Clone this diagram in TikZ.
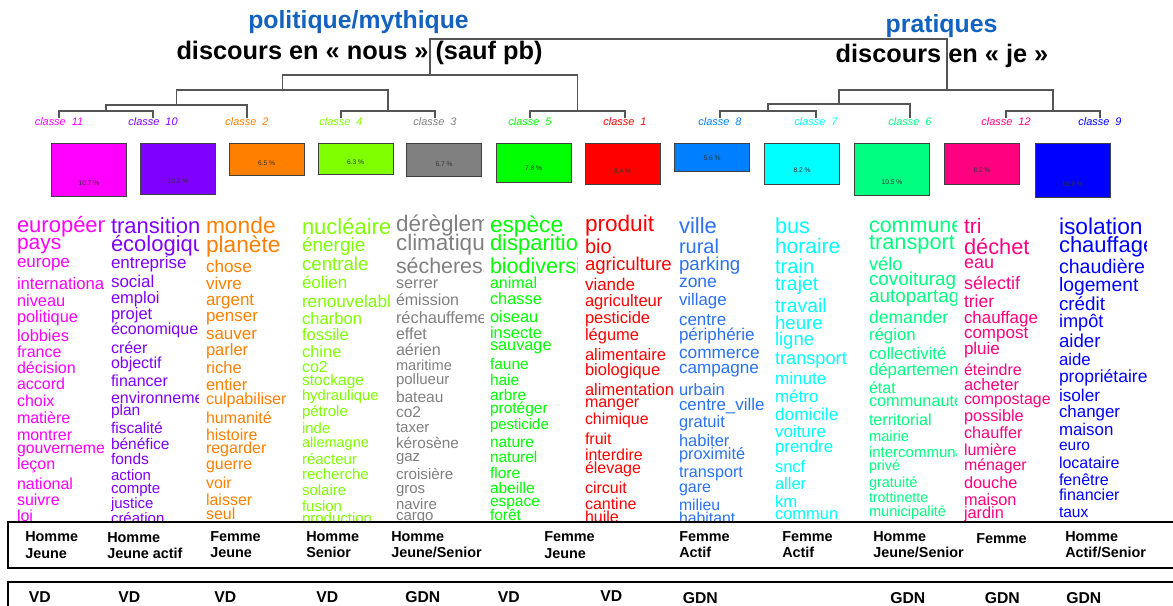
\documentclass[tikz,border=0pt]{standalone}
\usepackage{fontspec}
\setmainfont{Liberation Sans}
\definecolor{c11}{HTML}{FF00FF}
\definecolor{c10}{HTML}{8000FF}
\definecolor{c2}{HTML}{FF8000}
\definecolor{c4}{HTML}{80FF00}
\definecolor{c3}{HTML}{808080}
\definecolor{c5}{HTML}{00FF00}
\definecolor{c1}{HTML}{FF0000}
\definecolor{c8}{HTML}{0080FF}
\definecolor{c8w}{HTML}{2A72EE}
\definecolor{c7}{HTML}{00FFFF}
\definecolor{c6}{HTML}{00FF80}
\definecolor{c12}{HTML}{FF0080}
\definecolor{c9}{HTML}{0000FF}
\definecolor{tblue}{HTML}{1462C0}
\definecolor{dendro}{HTML}{555555}
\newcounter{wdc}
\newcommand\W[3]{\stepcounter{wdc}\pgfmathsetmacro\wfs{0.75*#2}\node[wd] (w\thewdc) at (0,#1) {\fontsize{\wfs pt}{\wfs pt}\selectfont #3};}
\begin{document}
\begin{tikzpicture}[x=0.75pt,y=-0.75pt,
  wd/.style={anchor=base west,inner sep=0pt,outer sep=0pt},
  ttl/.style={anchor=base,inner sep=0pt,font=\fontsize{18.6}{20}\selectfont\bfseries,text=tblue},
  ttlb/.style={anchor=base,inner sep=0pt,font=\fontsize{19}{21}\selectfont\bfseries,text=black},
  cls/.style={anchor=base,inner sep=0pt,font=\fontsize{8.2}{9}\selectfont\itshape},
  bx/.style={draw=black!75,line width=0.8pt,anchor=north west,minimum width=56.25pt,inner sep=0pt},
  pct/.style={inner sep=0pt,font=\fontsize{5}{6}\selectfont,text=black!80},
  dl/.style={draw=dendro,line width=1pt},
  grp/.style={anchor=base west,inner sep=0pt,font=\fontsize{10.8}{12}\selectfont\bfseries},
  vd/.style={anchor=base west,inner sep=0pt,font=\fontsize{11.8}{13}\selectfont\bfseries},
  frame/.style={draw=black,line width=1.5pt}]
\clip (0,0) rectangle (1173,606);
\fill[white] (0,0) rectangle (1173,606);

% titles
\node[ttl] (T1) at (358.5,29) {politique/mythique};
\node[ttlb] (T2) at (359.5,60) {discours en « nous » (sauf pb)};
\node[ttl] (T3) at (941.5,33) {pratiques};
\node[ttlb] (T4) at (942,63) {discours en « je »};

% class labels
\node[cls,text=c11] (L11) at (59,126) {classe\ \ 11};
\node[cls,text=c10] (L10) at (153,126) {classe\ \ 10};
\node[cls,text=c2] (L2) at (247,126) {classe\ \ 2};
\node[cls,text=c4] (L4) at (341,126) {classe\ \ 4};
\node[cls,text=c3] (L3) at (435,126) {classe\ \ 3};
\node[cls,text=c5] (L5) at (530,126) {classe\ \ 5};
\node[cls,text=c1] (L1) at (625,126) {classe\ \ 1};
\node[cls,text=c8] (L8) at (720,126) {classe\ \ 8};
\node[cls,text=c7] (L7) at (816,126) {classe\ \ 7};
\node[cls,text=c6] (L6) at (910,126) {classe\ \ 6};
\node[cls,text=c12] (L12) at (1006,126) {classe\ \ 12};
\node[cls,text=c9] (L9) at (1100,126) {classe\ \ 9};

% dendrogram
\coordinate (a) at (106,111);
\coordinate (b) at (176.5,105);
\coordinate (c) at (388,111);
\coordinate (d) at (282.5,90);
\coordinate (e) at (577.5,111);
\coordinate (f) at (430,75);
\coordinate (g) at (768,111);
\coordinate (h) at (839,104);
\coordinate (i) at (1053,111);
\coordinate (j) at (947,90);
\coordinate (r) at (688,39);
\draw[dl] (L11.north) |- (a) -| (L10.north);
\draw[dl] (a) |- (b) -| (L2.north);
\draw[dl] (L4.north) |- (c) -| (L3.north);
\draw[dl] (b) |- (d) -| (c);
\draw[dl] (L5.north) |- (e) -| (L1.north);
\draw[dl] (d) |- (f) -| (e);
\draw[dl] (L8.north) |- (g) -| (L7.north);
\draw[dl] (g) |- (h) -| (L6.north);
\draw[dl] (L12.north) |- (i) -| (L9.north);
\draw[dl] (h) |- (j) -| (i);
\draw[dl] (f) |- (r) -| (j);

% boxes
\node[bx,fill=c11,minimum height=39.75pt] (B11) at (51,143) {};
\node[bx,fill=c10,minimum height=38.25pt] (B10) at (140,143) {};
\node[bx,fill=c2,minimum height=24pt] (B2) at (228.5,143) {};
\node[bx,fill=c4,minimum height=23.25pt] (B4) at (317.5,143) {};
\node[bx,fill=c3,minimum height=24.75pt] (B3) at (406,143) {};
\node[bx,fill=c5,minimum height=29.25pt] (B5) at (495.5,143) {};
\node[bx,fill=c1,minimum height=30.75pt] (B1) at (584.5,143) {};
\node[bx,fill=c8,minimum height=21pt] (B8) at (674,143) {};
\node[bx,fill=c7,minimum height=30.75pt] (B7) at (764,143) {};
\node[bx,fill=c6,minimum height=39pt] (B6) at (854,143) {};
\node[bx,fill=c12,minimum height=30.75pt] (B12) at (944,143) {};
\node[bx,fill=c9,minimum height=40.5pt] (B9) at (1034.5,143) {};
\node[pct,yshift=10.5pt] (P11) at (B11.south) {10.7 \%};
\node[pct,yshift=10.5pt] (P10) at (B10.south) {10.2 \%};
\node[pct,yshift=10pt] (P2) at (B2.south) {6.5 \%};
\node[pct,yshift=10pt] (P4) at (B4.south) {6.3 \%};
\node[pct,yshift=10pt] (P3) at (B3.south) {6.7 \%};
\node[pct,yshift=11pt] (P5) at (B5.south) {7.8 \%};
\node[pct,yshift=10.5pt] (P1) at (B1.south) {8.4 \%};
\node[pct,yshift=10.5pt] (P8) at (B8.south) {5.6 \%};
\node[pct,yshift=11pt] (P7) at (B7.south) {8.2 \%};
\node[pct,yshift=10.5pt] (P6) at (B6.south) {10.5 \%};
\node[pct,yshift=11pt] (P12) at (B12.south) {8.2 \%};
\node[pct,yshift=10.5pt] (P9) at (B9.south) {10.9 \%};

% word columns
\begin{scope}[shift={(17,0)},text=c11]
\clip (0,200) rectangle (87,520);
\W{232}{22}{européen}
\W{249}{21}{pays}
\W{267}{17}{europe}
\W{289}{16.7}{international}
\W{306}{16.4}{niveau}
\W{322}{16.4}{politique}
\W{341}{16.4}{lobbies}
\W{357}{16}{france}
\W{373}{16}{décision}
\W{389}{16}{accord}
\W{406}{16}{choix}
\W{423}{16}{matière}
\W{440}{16}{montrer}
\W{453}{15.8}{gouvernement}
\W{469}{16}{leçon}
\W{489}{16}{national}
\W{505}{16}{suivre}
\W{521}{16}{loi}
\end{scope}

\begin{scope}[shift={(111,0)},text=c10]
\clip (0,200) rectangle (87,520);
\W{233}{22}{transition}
\W{251}{22}{écologique}
\W{268}{17}{entreprise}
\W{287}{17}{social}
\W{303}{16.5}{emploi}
\W{319}{16.5}{projet}
\W{334}{16}{économique}
\W{353}{16}{créer}
\W{368}{16}{objectif}
\W{386}{16}{financer}
\W{403}{16}{environnement}
\W{415}{15.5}{plan}
\W{433}{15.5}{fiscalité}
\W{449}{15.5}{bénéfice}
\W{464}{15.5}{fonds}
\W{480}{15}{action}
\W{493}{15}{compte}
\W{508}{15}{justice}
\W{523}{15}{création}
\end{scope}

\begin{scope}[shift={(206,0)},text=c2]
\clip (0,200) rectangle (87,520);
\W{233}{22.8}{monde}
\W{252}{22.7}{planète}
\W{272}{17.2}{chose}
\W{289}{17}{vivre}
\W{305}{17}{argent}
\W{321}{17}{penser}
\W{339}{17}{sauver}
\W{355}{16.5}{parler}
\W{373}{16.5}{riche}
\W{390}{16.5}{entier}
\W{404}{16.1}{culpabiliser}
\W{423}{16}{humanité}
\W{440}{16}{histoire}
\W{453}{16}{regarder}
\W{469}{16}{guerre}
\W{488}{16}{voir}
\W{505}{16}{laisser}
\W{519}{16}{seul}
\end{scope}

\begin{scope}[shift={(302,0)},text=c4]
\clip (0,200) rectangle (87,520);
\W{234}{22}{nucléaire}
\W{251}{19}{énergie}
\W{270}{18.7}{centrale}
\W{288}{17}{éolien}
\W{307}{17.2}{renouvelable}
\W{324}{16.6}{charbon}
\W{340}{16.5}{fossile}
\W{357}{16.5}{chine}
\W{372}{16}{co2}
\W{385}{15.5}{stockage}
\W{400}{14.8}{hydraulique}
\W{416}{15}{pétrole}
\W{433}{15}{inde}
\W{447}{14.5}{allemagne}
\W{464}{15}{réacteur}
\W{479}{15}{recherche}
\W{495}{15}{solaire}
\W{511}{15}{fusion}
\W{523}{15}{production}
\end{scope}

\begin{scope}[shift={(396,0)},text=c3]
\clip (0,200) rectangle (87,520);
\W{231}{22.5}{dérèglement}
\W{250}{22.5}{climatique}
\W{273}{21.4}{sécheresse}
\W{288}{16.2}{serrer}
\W{305}{16}{émission}
\W{323}{16.4}{réchauffement}
\W{339}{16}{effet}
\W{355}{16.1}{aérien}
\W{370}{14.6}{maritime}
\W{384}{15}{pollueur}
\W{402}{15.5}{bateau}
\W{417}{15.5}{co2}
\W{432}{15}{taxer}
\W{448}{15.3}{kérosène}
\W{461}{15}{gaz}
\W{479}{15.2}{croisière}
\W{493}{15}{gros}
\W{509}{15}{navire}
\W{520}{15}{cargo}
\end{scope}

\begin{scope}[shift={(490,0)},text=c5]
\clip (0,200) rectangle (87,520);
\W{232}{22.7}{espèce}
\W{250}{22}{disparition}
\W{273}{21.5}{biodiversité}
\W{288}{16}{animal}
\W{304}{16.4}{chasse}
\W{322}{16.4}{oiseau}
\W{338}{16.4}{insecte}
\W{350}{16.3}{sauvage}
\W{369}{15.5}{faune}
\W{385}{15.5}{haie}
\W{400}{15.5}{arbre}
\W{413}{15.5}{protéger}
\W{429}{14.9}{pesticide}
\W{447}{15.5}{nature}
\W{462}{15.5}{naturel}
\W{478}{15.5}{flore}
\W{493}{15.5}{abeille}
\W{506}{15.5}{espace}
\W{520}{15.5}{forêt}
\end{scope}

\begin{scope}[shift={(585,0)},text=c1]
\clip (0,200) rectangle (87,520);
\W{231}{22.6}{produit}
\W{253}{20}{bio}
\W{270}{18.6}{agriculture}
\W{290}{17}{viande}
\W{306}{16.6}{agriculteur}
\W{323}{16.5}{pesticide}
\W{340}{16.5}{légume}
\W{360}{16.6}{alimentaire}
\W{375}{16.5}{biologique}
\W{395}{16.5}{alimentation}
\W{407}{16}{manger}
\W{424}{15.9}{chimique}
\W{444}{16}{fruit}
\W{460}{16}{interdire}
\W{473}{16}{élevage}
\W{493}{16}{circuit}
\W{509}{16}{cantine}
\W{522}{16}{huile}
\end{scope}

\begin{scope}[shift={(679,0)},text=c8w]
\clip (0,200) rectangle (87,520);
\W{233}{22}{ville}
\W{253}{20}{rural}
\W{270}{18.7}{parking}
\W{287}{17.5}{zone}
\W{305}{16.8}{village}
\W{325}{17}{centre}
\W{340}{17}{périphérie}
\W{358}{17.3}{commerce}
\W{373}{17.1}{campagne}
\W{395}{16.5}{urbain}
\W{410}{16.9}{centre\_ville}
\W{427}{16.5}{gratuit}
\W{446}{16.5}{habiter}
\W{459}{16.3}{proximité}
\W{477}{16.2}{transport}
\W{492}{16}{gare}
\W{510}{15.8}{milieu}
\W{523}{15.8}{habitant}
\end{scope}

\begin{scope}[shift={(775,0)},text=c7]
\clip (0,200) rectangle (87,520);
\W{233}{21.7}{bus}
\W{253}{21}{horaire}
\W{273}{20.2}{train}
\W{290}{19.5}{trajet}
\W{312}{19.4}{travail}
\W{329}{18.7}{heure}
\W{345}{18.5}{ligne}
\W{364}{18.2}{transport}
\W{384}{17.1}{minute}
\W{402}{17}{métro}
\W{420}{17.3}{domicile}
\W{437}{17}{voiture}
\W{452}{16.9}{prendre}
\W{472}{16.5}{sncf}
\W{489}{16.5}{aller}
\W{507}{16.7}{km}
\W{519}{16.5}{commun}
\end{scope}

\begin{scope}[shift={(869,0)},text=c6]
\clip (0,200) rectangle (87,520);
\W{232}{21.5}{commune}
\W{249}{21.8}{transport}
\W{270}{18.3}{vélo}
\W{285}{18.9}{covoiturage}
\W{302}{18.9}{autopartage}
\W{323}{17.6}{demander}
\W{340}{16.8}{région}
\W{359}{16.8}{collectivité}
\W{375}{16.8}{département}
\W{393}{16}{état}
\W{406}{16.3}{communauté}
\W{425}{16.1}{territorial}
\W{441}{14.7}{mairie}
\W{457}{15}{intercommunalité}
\W{470}{14.3}{privé}
\W{487}{14.5}{gratuité}
\W{502}{14.2}{trottinette}
\W{516}{14.6}{municipalité}
\end{scope}

\begin{scope}[shift={(964,0)},text=c12]
\clip (0,200) rectangle (87,520);
\W{233}{21}{tri}
\W{254}{21.8}{déchet}
\W{268}{18}{eau}
\W{289}{18}{sélectif}
\W{307}{17.5}{trier}
\W{323}{16.9}{chauffage}
\W{338}{17}{compost}
\W{354}{17}{pluie}
\W{375}{16}{éteindre}
\W{390}{16.5}{acheter}
\W{404}{15.9}{compostage}
\W{421}{16.3}{possible}
\W{438}{16.3}{chauffer}
\W{455}{16}{lumière}
\W{470}{15.9}{ménager}
\W{488}{16.3}{douche}
\W{505}{16.3}{maison}
\W{518}{16.3}{jardin}
\end{scope}

\begin{scope}[shift={(1059,0)},text=c9]
\clip (0,200) rectangle (87,520);
\W{234}{22.8}{isolation}
\W{252}{22}{chauffage}
\W{273}{19.6}{chaudière}
\W{291}{19.3}{logement}
\W{310}{18.8}{crédit}
\W{327}{18.2}{impôt}
\W{347}{18.7}{aider}
\W{365}{16.8}{aide}
\W{382}{17.5}{propriétaire}
\W{401}{17.2}{isoler}
\W{417}{16.9}{changer}
\W{435}{16.9}{maison}
\W{450}{15.5}{euro}
\W{468}{16}{locataire}
\W{485}{16}{fenêtre}
\W{500}{16}{financier}
\W{517}{15.5}{taux}
\end{scope}

% bottom frames
\draw[frame] (8,522) rectangle (1190,568);
\draw[frame] (8,582) rectangle (1190,640);

% profile row
\node[grp] (g1a) at (25,541.5) {Homme};
\node[grp] (g1b) at (25,558) {Jeune};
\node[grp] (g2a) at (107,542) {Homme};
\node[grp] (g2b) at (107,558.5) {Jeune actif};
\node[grp] (g3a) at (210,541) {Femme};
\node[grp] (g3b) at (210,557.5) {Jeune};
\node[grp] (g4a) at (306,541) {Homme};
\node[grp] (g4b) at (306,557.5) {Senior};
\node[grp] (g5a) at (391,541) {Homme};
\node[grp] (g5b) at (391,557.5) {Jeune/Senior};
\node[grp] (g6a) at (544,541.5) {Femme};
\node[grp] (g6b) at (544,558.5) {Jeune};
\node[grp] (g7a) at (679,541) {Femme};
\node[grp] (g7b) at (679,557.5) {Actif};
\node[grp] (g8a) at (782,541) {Femme};
\node[grp] (g8b) at (782,557.5) {Actif};
\node[grp] (g9a) at (873,541) {Homme};
\node[grp] (g9b) at (873,557.5) {Jeune/Senior};
\node[grp] (g10a) at (976,543) {Femme};
\node[grp] (g11a) at (1065,541) {Homme};
\node[grp] (g11b) at (1065,557.5) {Actif/Senior};

% vote row
\node[vd] (v1) at (28.5,602) {VD};
\node[vd] (v2) at (118,602) {VD};
\node[vd] (v3) at (214,602) {VD};
\node[vd] (v4) at (316,602) {VD};
\node[vd] (v5) at (405,602) {GDN};
\node[vd] (v6) at (497.5,602) {VD};
\node[vd] (v7) at (600,601) {VD};
\node[vd] (v8) at (682.5,603) {GDN};
\node[vd] (v9) at (890,603) {GDN};
\node[vd] (v10) at (984.5,603) {GDN};
\node[vd] (v11) at (1066,603) {GDN};
\end{tikzpicture}
\end{document}
